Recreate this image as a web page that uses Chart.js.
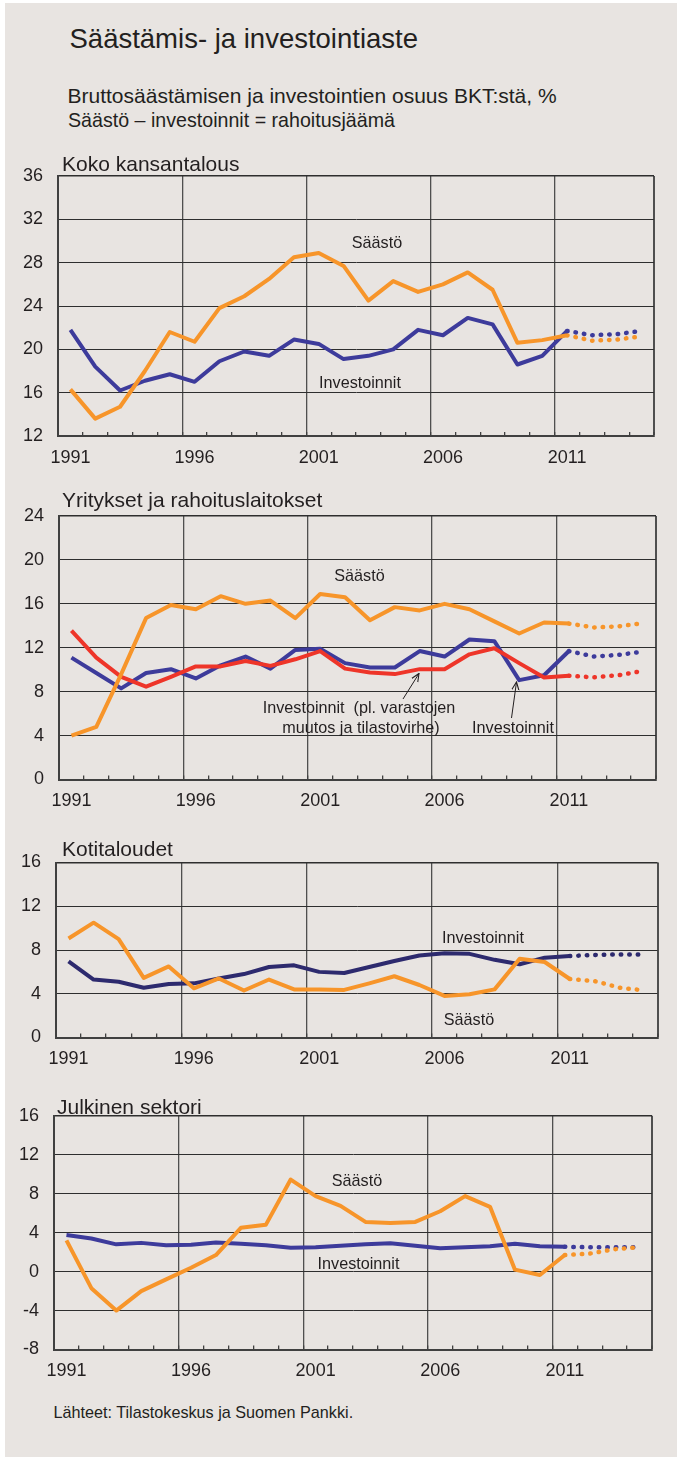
<!DOCTYPE html>
<html lang="fi">
<head>
<meta charset="utf-8">
<title>Säästämis- ja investointiaste</title>
<script src="https://cdn.jsdelivr.net/npm/chart.js@4.4.1/dist/chart.umd.min.js"></script>
<style>
    html, body { margin:0; padding:0; background:#ffffff; }
    body { width:677px; height:1459px; position:relative; overflow:hidden;
           font-family:"Liberation Sans", Arial, sans-serif; color:#231F20; }
    #tausta { position:absolute; left:5px; top:3px; width:672px; height:1454px; background:#E8E4E1; }
    canvas { position:absolute; left:0; }
    .teksti { position:absolute; white-space:pre; line-height:1; z-index:2; }
    .keski { transform:translateX(-50%); }
    .otsikko { font-size:27.5px; }
    .ala { font-size:21px; }
    .kapea { transform:scaleX(0.935); transform-origin:left center; }
    .paneeli { font-size:21px; }
    .selite { font-size:16.2px; }
    svg { position:absolute; left:0; top:0; z-index:2; }
</style>
</head>
<body>

<div id="tausta"></div>

<div class="teksti otsikko" style="left:69.5px; top:24.9px;">Säästämis- ja investointiaste</div>
<div class="teksti ala" style="left:67.5px; top:85.2px;">Bruttosäästämisen ja investointien osuus BKT:stä, %</div>
<div class="teksti ala kapea" style="left:67.5px; top:109px;">Säästö – investoinnit = rahoitusjäämä</div>

<!-- Koko kansantalous -->
<div class="teksti paneeli" style="left:62px; top:153px;">Koko kansantalous</div>
<canvas id="koko" width="677" height="326" style="top:150px;"></canvas>
<div class="teksti selite keski" style="left:377px; top:234px;">Säästö</div>
<div class="teksti selite keski" style="left:360px; top:374px;">Investoinnit</div>

<!-- Yritykset -->
<div class="teksti paneeli" style="left:62px; top:488.8px;">Yritykset ja rahoituslaitokset</div>
<canvas id="yritykset" width="677" height="330" style="top:490px;"></canvas>
<div class="teksti selite keski" style="left:359.5px; top:567px;">Säästö</div>
<div class="teksti selite keski" style="left:359px; top:699px;">Investoinnit  (pl. varastojen</div>
<div class="teksti selite keski" style="left:361px; top:718.5px;">muutos ja tilastovirhe)</div>
<div class="teksti selite keski" style="left:513px; top:719px;">Investoinnit</div>

<!-- Kotitaloudet -->
<div class="teksti paneeli" style="left:62px; top:838px;">Kotitaloudet</div>
<canvas id="koti" width="677" height="242" style="top:836px;"></canvas>
<div class="teksti selite keski" style="left:483px; top:929px;">Investoinnit</div>
<div class="teksti selite keski" style="left:469px; top:1010.5px;">Säästö</div>

<!-- Julkinen sektori -->
<div class="teksti paneeli" style="left:57px; top:1095.8px;">Julkinen sektori</div>
<canvas id="julkinen" width="677" height="300" style="top:1090px;"></canvas>
<div class="teksti selite keski" style="left:357px; top:1172px;">Säästö</div>
<div class="teksti selite keski" style="left:358.5px; top:1255px;">Investoinnit</div>

<div class="teksti selite" style="left:53.5px; top:1404px;">Lähteet: Tilastokeskus ja Suomen Pankki.</div>

<svg width="677" height="1459">
    <defs>
        <marker id="nuoli" viewBox="0 0 10 10" refX="9" refY="5" markerWidth="9" markerHeight="9" orient="auto" markerUnits="userSpaceOnUse">
            <path d="M0,1 L9,5 L0,9" fill="none" stroke="#231F20" stroke-width="1.2"/>
        </marker>
    </defs>
    <line x1="403" y1="699" x2="419" y2="673.5" stroke="#231F20" stroke-width="1" marker-end="url(#nuoli)"/>
    <line x1="511.5" y1="718" x2="516.5" y2="682" stroke="#231F20" stroke-width="1" marker-end="url(#nuoli)"/>
</svg>

<script>
// ==========================================================
// Aineisto (1991-2011 toteuma, 2011-2014 ennuste)
// ==========================================================

const vuodet = ["1991","1992","1993","1994","1995","1996","1997","1998","1999","2000",
    "2001","2002","2003","2004","2005","2006","2007","2008","2009","2010",
    "2011","2012","2013","2014"];

// Koko kansantalous
const kokoSaasto = [16.3, 13.6, 14.7, 18.0, 21.6, 20.7, 23.8, 24.9, 26.5, 28.5, 28.9,
    27.7, 24.5, 26.3, 25.3, 26.0, 27.1, 25.5, 20.6, 20.85, 21.3];
const kokoSaastoEnnuste = [21.3, 20.8, 20.9, 21.2];
const kokoInvestoinnit = [21.8, 18.4, 16.2, 17.1, 17.7, 17.0, 18.9, 19.8, 19.4, 20.9, 20.5,
    19.1, 19.4, 20.0, 21.8, 21.3, 22.9, 22.3, 18.6, 19.4, 21.7];
const kokoInvestoinnitEnnuste = [21.7, 21.3, 21.4, 21.7];

// Yritykset ja rahoituslaitokset
const yritSaasto = [4.0, 4.8, 9.6, 14.7, 15.9, 15.5, 16.7, 16.0, 16.3, 14.7, 16.9,
    16.6, 14.5, 15.7, 15.4, 16.0, 15.5, 14.4, 13.3, 14.3, 14.2];
const yritSaastoEnnuste = [14.2, 13.85, 13.95, 14.25];
const yritInvestoinnit = [11.1, 9.7, 8.3, 9.7, 10.05, 9.2, 10.4, 11.2, 10.1, 11.8, 11.9,
    10.6, 10.2, 10.2, 11.7, 11.2, 12.75, 12.6, 9.05, 9.5, 11.7];
const yritInvestoinnitEnnuste = [11.7, 11.2, 11.35, 11.65];
const yritInvestoinnitPl = [13.55, 11.1, 9.35, 8.45, 9.35, 10.3, 10.3, 10.8, 10.35, 10.95, 11.7,
    10.1, 9.75, 9.6, 10.05, 10.05, 11.4, 11.95, 10.6, 9.3, 9.45];
const yritInvestoinnitPlEnnuste = [9.45, 9.3, 9.5, 9.9];

// Kotitaloudet
const kotiSaasto = [9.05, 10.5, 9.0, 5.45, 6.5, 4.5, 5.4, 4.3, 5.3, 4.4, 4.4,
    4.35, 4.95, 5.6, 4.8, 3.8, 3.95, 4.4, 7.2, 6.9, 5.35];
const kotiSaastoEnnuste = [5.35, 5.15, 4.55, 4.3];
const kotiInvestoinnit = [6.95, 5.3, 5.1, 4.55, 4.9, 4.95, 5.4, 5.8, 6.45, 6.6, 6.0,
    5.9, 6.45, 7.0, 7.5, 7.7, 7.65, 7.1, 6.7, 7.3, 7.45];
const kotiInvestoinnitEnnuste = [7.45, 7.55, 7.6, 7.6];

// Julkinen sektori
const julkSaasto = [3.2, -1.7, -4.0, -2.0, -0.8, 0.4, 1.7, 4.5, 4.8, 9.45, 7.75,
    6.75, 5.1, 5.0, 5.1, 6.2, 7.75, 6.65, 0.2, -0.35, 1.7];
const julkSaastoEnnuste = [1.7, 1.85, 2.3, 2.5];
const julkInvestoinnit = [3.75, 3.4, 2.8, 2.95, 2.7, 2.75, 3.0, 2.85, 2.7, 2.45, 2.5,
    2.65, 2.8, 2.9, 2.65, 2.4, 2.5, 2.6, 2.85, 2.6, 2.55];
const julkInvestoinnitEnnuste = [2.55, 2.5, 2.5, 2.5];

// ==========================================================
// Värit
// ==========================================================

const VARIT = {
    oranssi: "#F7952A",
    sininen: "#3D3B9B",
    tummansininen: "#2D2A6E",
    punainen: "#EE3529",
    ruudukko: "#2E2E2E",
    pystyviiva: "#4F4F4F",
    akseli: "#404040",
    teksti: "#231F20"
};

Chart.defaults.font.family = '"Liberation Sans", Arial, sans-serif';
Chart.defaults.font.size = 18;
Chart.defaults.color = VARIT.teksti;

// ==========================================================
// Apufunktiot
// ==========================================================

function toteuma(arvot){
    return vuodet.map((v, i) => i < arvot.length ? arvot[i] : null);
}

function ennuste(arvot){
    const alku = vuodet.length - arvot.length;
    return vuodet.map((v, i) => i >= alku ? arvot[i - alku] : null);
}

function viiva(arvot, vari){
    return {
        data: toteuma(arvot),
        borderColor: vari,
        borderWidth: 4,
        borderJoinStyle: "round",
        pointRadius: 0,
        tension: 0,
        spanGaps: false
    };
}

function pisteviiva(arvot, vari){
    return {
        data: ennuste(arvot),
        borderColor: vari,
        borderWidth: 4.5,
        borderDash: [0.5, 8],
        borderCapStyle: "round",
        pointRadius: 0,
        tension: 0
    };
}

// p = {id, canvasYla, yla, ala, vasen, oikea, min, max}
function luoPaneeli(p, aineistot){

    const canvas = document.getElementById(p.id);

    const alaKorkeus = canvas.height - (p.ala - p.canvasYla);

    return new Chart(canvas, {

        type: "line",

        data: {
            labels: vuodet,
            datasets: aineistot
        },

        options: {

            responsive: false,
            animation: false,

            layout: {
                padding: {
                    top: p.yla - p.canvasYla,
                    right: canvas.width - p.oikea,
                    left: 0,
                    bottom: 0
                }
            },

            plugins: {
                legend: { display: false },
                tooltip: { enabled: false }
            },

            scales: {

                x: {
                    type: "category",
                    offset: true,
                    afterFit(scale){ scale.height = alaKorkeus; },
                    border: { color: VARIT.akseli, width: 2 },
                    grid: {
                        offset: true,
                        // pystyviiva joka viides vuosi, muuten vain lyhyt merkki
                        color: ctx => (ctx.type !== "tick" || ctx.index % 5 === 0) ? VARIT.pystyviiva : "rgba(0,0,0,0)",
                        lineWidth: ctx => ctx.type !== "tick" ? 2 : 1.3,
                        drawTicks: true,
                        tickLength: -4,
                        tickColor: VARIT.akseli,
                        tickWidth: 1.3
                    },
                    ticks: {
                        autoSkip: false,
                        maxRotation: 0,
                        padding: 15,
                        callback(arvo, indeksi){
                            return indeksi % 5 === 0 ? this.getLabelForValue(arvo) : "";
                        }
                    }
                },

                y: {
                    min: p.min,
                    max: p.max,
                    afterFit(scale){ scale.width = p.vasen; },
                    border: { color: VARIT.akseli, width: 2 },
                    grid: {
                        color: VARIT.ruudukko,
                        lineWidth: ctx => (ctx.tick && ctx.tick.value === p.max) ? 1.6 : 1,
                        drawTicks: false
                    },
                    ticks: {
                        stepSize: 4,
                        padding: 15
                    }
                }

            }

        }

    });

}

// ==========================================================
// Paneelit
// ==========================================================

luoPaneeli(
    { id: "koko", canvasYla: 150, yla: 176, ala: 436, vasen: 58, oikea: 654, min: 12, max: 36 },
    [
        viiva(kokoSaasto, VARIT.oranssi),
        viiva(kokoInvestoinnit, VARIT.sininen),
        pisteviiva(kokoSaastoEnnuste, VARIT.oranssi),
        pisteviiva(kokoInvestoinnitEnnuste, VARIT.sininen)
    ]
);

luoPaneeli(
    { id: "yritykset", canvasYla: 490, yla: 516, ala: 779.5, vasen: 59, oikea: 656, min: 0, max: 24 },
    [
        viiva(yritSaasto, VARIT.oranssi),
        viiva(yritInvestoinnitPl, VARIT.punainen),
        viiva(yritInvestoinnit, VARIT.sininen),
        pisteviiva(yritSaastoEnnuste, VARIT.oranssi),
        pisteviiva(yritInvestoinnitPlEnnuste, VARIT.punainen),
        pisteviiva(yritInvestoinnitEnnuste, VARIT.sininen)
    ]
);

luoPaneeli(
    { id: "koti", canvasYla: 836, yla: 862.5, ala: 1037.5, vasen: 56, oikea: 657.5, min: 0, max: 16 },
    [
        viiva(kotiSaasto, VARIT.oranssi),
        viiva(kotiInvestoinnit, VARIT.tummansininen),
        pisteviiva(kotiSaastoEnnuste, VARIT.oranssi),
        pisteviiva(kotiInvestoinnitEnnuste, VARIT.tummansininen)
    ]
);

luoPaneeli(
    { id: "julkinen", canvasYla: 1090, yla: 1115.5, ala: 1349.5, vasen: 54, oikea: 652, min: -8, max: 16 },
    [
        viiva(julkSaasto, VARIT.oranssi),
        viiva(julkInvestoinnit, VARIT.sininen),
        pisteviiva(julkSaastoEnnuste, VARIT.oranssi),
        pisteviiva(julkInvestoinnitEnnuste, VARIT.sininen)
    ]
);
</script>
</body>
</html>
